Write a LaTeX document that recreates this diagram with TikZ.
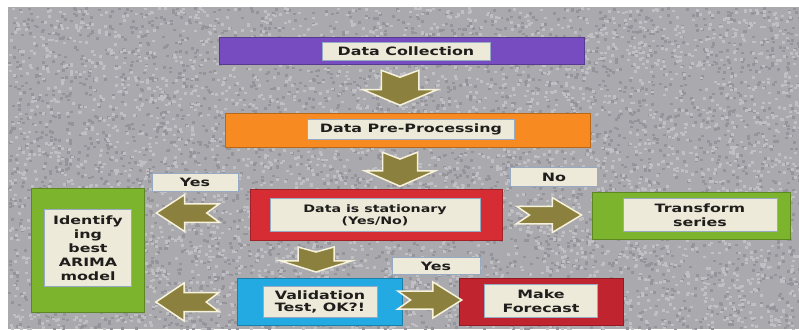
\documentclass[tikz,border=0pt]{standalone}
\usepackage{fontspec}
\newfontfamily\boxfont[FakeStretch=1.38]{DejaVu Sans}
\usetikzlibrary{calc}
\definecolor{bggray}{RGB}{170,170,174}
\definecolor{bgdark}{RGB}{148,148,154}
\definecolor{bglight}{RGB}{192,192,196}
\definecolor{cpurple}{RGB}{118,76,192}
\definecolor{corange}{RGB}{247,138,32}
\definecolor{cred}{RGB}{214,44,52}
\definecolor{cdred}{RGB}{192,36,46}
\definecolor{cgreen}{RGB}{124,180,46}
\definecolor{cblue}{RGB}{36,170,226}
\definecolor{lblfill}{RGB}{237,234,217}
\definecolor{lbledge}{RGB}{150,170,196}
\definecolor{lbltext}{RGB}{32,30,28}
\definecolor{arrfill}{RGB}{140,128,62}
\definecolor{arredge}{RGB}{246,242,220}
\tikzset{
  bar/.style={draw=#1!75!black, line width=1pt, fill=#1, inner sep=0pt},
  lbl/.style={draw=lbledge, line width=0.8pt, fill=lblfill, inner sep=0pt, text=lbltext,
    align=center, font=\boxfont\bfseries\fontsize{11.5}{14}\selectfont},
  smalltxt/.style={font=\boxfont\bfseries\fontsize{10.3}{12}\selectfont},
  pics/blockarr/.style={code={
    \draw[fill=arrfill, draw=arredge, line width=1.5pt, line join=miter]
      (-0.5,0.5) -- (0.05,0.5) -- (0.05,1) -- (0.5,0) -- (0.05,-1) -- (0.05,-0.5)
      -- (-0.5,-0.5) -- (-0.3,0) -- cycle;}}
}
\begin{document}
\begin{tikzpicture}[x=1pt, y=-1pt]
\useasboundingbox (0,0) rectangle (799,329);
% speckled backdrop
\begin{scope}
  \clip (8,7) rectangle (799,329);
  \fill[bggray] (8,7) rectangle (799,329);
  \pgfmathsetseed{42}
  \foreach \i in {1,...,4000}{
    \pgfmathsetmacro\px{8+rnd*791}
    \pgfmathsetmacro\py{7+rnd*322}
    \fill[bgdark] (\px,\py) rectangle ++(3,2.5);
  }
  \foreach \i in {1,...,4000}{
    \pgfmathsetmacro\px{8+rnd*791}
    \pgfmathsetmacro\py{7+rnd*322}
    \fill[bglight] (\px,\py) rectangle ++(3,2.5);
  }
\end{scope}

% process boxes
\node[bar=cpurple, minimum width=365pt, minimum height=27pt] (dc) at (402,51) {};
\node[lbl, minimum width=168pt, minimum height=18pt] (dct) at (406,51) {Data Collection};
\node[bar=corange, minimum width=365pt, minimum height=34pt] (dp) at (408,130) {};
\node[lbl, minimum width=207pt, minimum height=20pt] (dpt) at (411,129) {Data Pre-Processing};
\node[bar=cred, minimum width=252pt, minimum height=51pt] (st) at (376,215) {};
\node[lbl, smalltxt, minimum width=210pt, minimum height=33pt] (stt) at (375,215) {Data is stationary\\(Yes/No)};
\node[bar=cgreen, minimum width=198pt, minimum height=47pt] (tr) at (691,216) {};
\node[lbl, minimum width=154pt, minimum height=33pt] (trt) at (700,215) {Transform\\series};
\node[bar=cgreen, minimum width=113pt, minimum height=124pt] (id) at (88,250) {};
\node[lbl, minimum width=87pt, minimum height=77pt] (idt) at (88,248) {Identify\\ing\\best\\ARIMA\\model};
\node[bar=cblue, minimum width=165pt, minimum height=47pt] (va) at (320,302) {};
\node[lbl, font=\boxfont\bfseries\fontsize{11.5}{12}\selectfont, minimum width=114pt, minimum height=31pt] (vat) at (320,302) {Validation\\Test, OK?!};
\node[bar=cdred, minimum width=164pt, minimum height=47pt] (fc) at (541,302) {};
\node[lbl, minimum width=113pt, minimum height=33pt] (fct) at (541,301) {Make\\Forecast};

% answer tags
\node[lbl, minimum width=86pt, minimum height=18pt] (yesa) at (195,182) {Yes};
\node[lbl, minimum width=87pt, minimum height=19pt] (noa) at (554,177) {No};
\node[lbl, minimum width=88pt, minimum height=17pt] (yesb) at (436,266) {Yes};

% block arrows
\pic[rotate=-90, xscale=35, yscale=37.5] at ($(dc.south)!0.5!(dp.north)+(-5,-1)$) {blockarr};
\pic[rotate=-90, xscale=34, yscale=35] at ($(dp.south)!0.5!(st.north)+(8,1)$) {blockarr};
\pic[rotate=-90, xscale=25, yscale=36] at ($(va.north)+(-4,-18.5)$) {blockarr};
\pic[xscale=-63, yscale=18.5] at ($(id.east |- st.west)!0.41!(st.west)+(0,-2)$) {blockarr};
\pic[xscale=65, yscale=17.5] at ($(st.east)!0.5!(tr.west |- st.east)+(2,0)$) {blockarr};
\pic[xscale=-63, yscale=19] at ($(id.east |- va.west)!0.46!(va.west)$) {blockarr};
\pic[xscale=64, yscale=18] at ($(va.east)!0.5!(fc.west)+(-1,-2)$) {blockarr};
\end{tikzpicture}
\end{document}
